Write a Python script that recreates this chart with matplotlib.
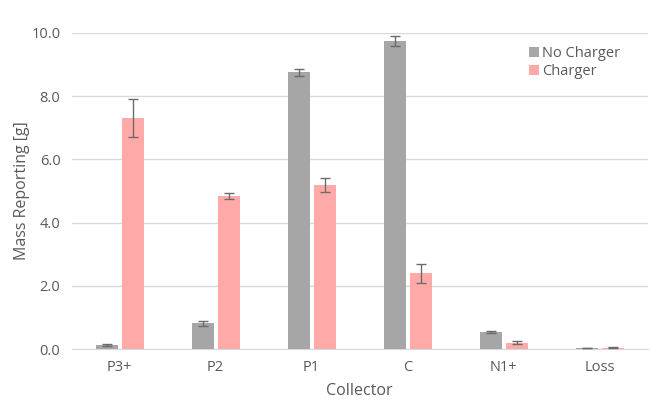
import numpy as np
from matplotlib import pyplot as plt

collectors = ['P3+', 'P2', 'P1', 'C', 'N1+', 'Loss']
no_charger = [0.12, 0.82, 8.75, 9.75, 0.55, 0.02]
no_charger_err = [0.03, 0.08, 0.12, 0.16, 0.03, 0.0]
charger = [7.3, 4.85, 5.2, 2.4, 0.2, 0.04]
charger_err = [0.6, 0.1, 0.22, 0.3, 0.05, 0.02]

plt.rcParams['font.family'] = ['Open Sans', 'DejaVu Sans']
text_color = '#595959'

fig = plt.figure(figsize=(6.51, 4.07), dpi=100)
ax = fig.add_axes([0.11, 0.1425, 0.885, 0.7765])

x = np.arange(len(collectors))
w = 0.23
err_style = dict(ecolor='#6b6b6b', capsize=3.5, elinewidth=1, capthick=1)
ax.bar(x - 0.135, no_charger, w, yerr=no_charger_err, color='#a6a6a6',
       label='No Charger', error_kw=err_style, zorder=3)
ax.bar(x + 0.135, charger, w, yerr=charger_err, color='#ffaaa8',
       label='Charger', error_kw=err_style, zorder=3)

ax.set_xlim(-0.5, 5.5)
ax.set_ylim(0, 10)
ax.set_yticks(np.arange(0, 10.1, 2))
ax.set_yticklabels(['%.1f' % v for v in np.arange(0, 10.1, 2)])
ax.set_xticks(x)
ax.set_xticklabels(collectors)
ax.grid(axis='y', color='#d9d9d9', linewidth=1, zorder=0)
ax.set_axisbelow(True)
for s in ['top', 'right', 'left']:
    ax.spines[s].set_visible(False)
ax.spines['bottom'].set_color('#d9d9d9')
ax.tick_params(axis='both', length=0, labelsize=10.5, colors=text_color, pad=8)

ax.set_xlabel('Collector', fontsize=11.5, color=text_color, labelpad=6)
ax.set_ylabel('Mass Reporting [g]', fontsize=11.5, color=text_color, labelpad=1)

leg = ax.legend(loc='upper right', bbox_to_anchor=(0.975, 1.0), frameon=False,
                fontsize=10.5, handlelength=0.7, handleheight=0.7,
                handletextpad=0.2, labelspacing=0.2)
for t in leg.get_texts():
    t.set_color(text_color)

fig.savefig('out.png', dpi=100)
